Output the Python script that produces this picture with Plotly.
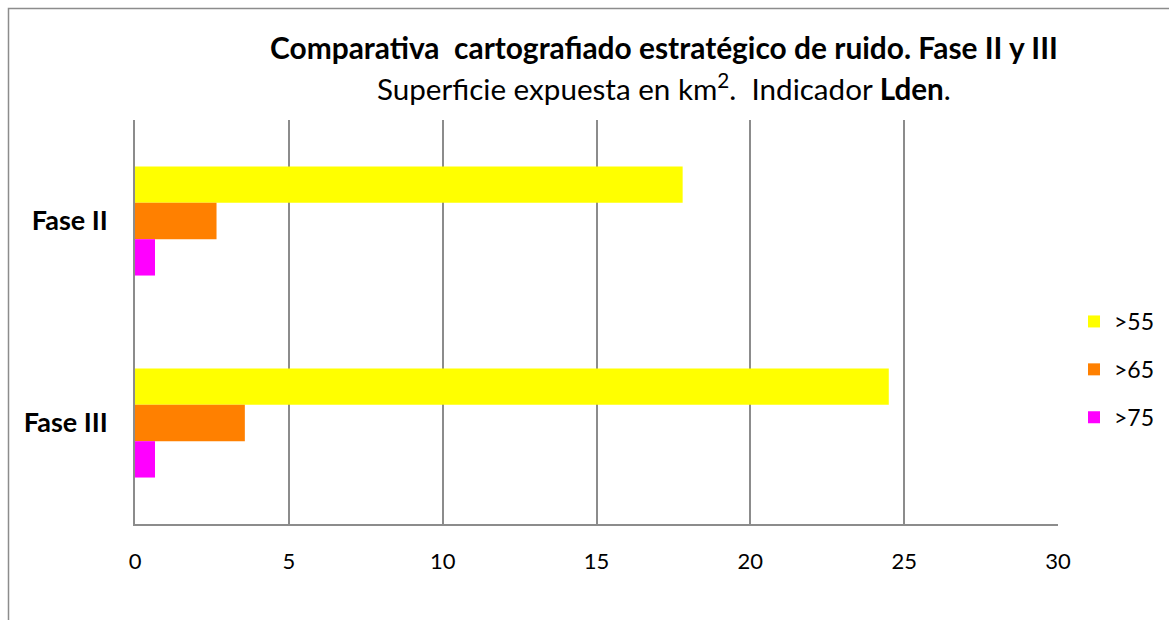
import plotly.graph_objects as go

categories = ["Fase II", "Fase III"]
series_names = [">55", ">65", ">75"]
v55 = [17.8, 24.5]
v65 = [2.65, 3.57]
v75 = [0.65, 0.65]
colors = ["#FFFF00", "#FF8000", "#FF00FF"]
x_ticks = [0, 5, 10, 15, 20, 25, 30]

W, H = 1169, 620
ml, mr, mt, mb = 135, 111, 120, 96
pw, ph = W - ml - mr, H - mt - mb

fig = go.Figure()
for name, vals, col in zip(series_names, [v55, v65, v75], colors):
    fig.add_trace(go.Bar(y=categories, x=vals, name=name, orientation="h",
                         legendgroup=name,
                         marker=dict(color=col, line=dict(width=0))))

font_family = "Lato, 'Open Sans', sans-serif"

def px_x(p):  # page pixel -> paper
    return (p - ml) / pw

def px_y(p):
    return 1 - (p - mt) / ph

fig.update_layout(
    width=W, height=H,
    margin=dict(l=ml, r=mr, t=mt, b=mb, autoexpand=False),
    paper_bgcolor="white", plot_bgcolor="white",
    barmode="group", bargap=0.46, bargroupgap=0,
    font=dict(family=font_family, size=22, color="black"),
    showlegend=True,
    legend=dict(x=px_x(1074), y=px_y(300), xanchor="left", yanchor="top",
                font=dict(size=23), tracegroupgap=15, itemsizing="constant",
                bgcolor="rgba(0,0,0,0)"),
    xaxis=dict(range=[0, 30], tickvals=x_ticks, showgrid=True, gridcolor="#8c8c8c",
               gridwidth=1.5, zeroline=False, showline=True, linecolor="#8c8c8c",
               linewidth=1.5, ticks="", tickfont=dict(size=22), ticklabelstandoff=17,
               automargin=False),
    yaxis=dict(autorange="reversed", showgrid=False, zeroline=False, showline=True,
               linecolor="#8c8c8c", linewidth=1.5, ticks="",
               tickfont=dict(size=27), ticklabelstandoff=20, automargin=False,
               tickprefix="<b>", ticksuffix="</b>"),
)

fig.add_annotation(xref="paper", yref="paper", x=px_x(664), y=px_y(47),
                   text="<b>Comparativa  cartografiado estratégico de ruido. Fase II y III</b>",
                   showarrow=False, font=dict(size=29.9, family=font_family),
                   xanchor="center", yanchor="middle")
fig.add_annotation(xref="paper", yref="paper", x=px_x(664), y=px_y(87),
                   text="Superficie expuesta en km<sup>2</sup>.  Indicador <b>Lden</b>.",
                   showarrow=False, font=dict(size=29.6, family=font_family),
                   xanchor="center", yanchor="middle")

# outer chart frame (left and top edges visible, others run off the picture)
fig.add_shape(type="rect", xref="paper", yref="paper",
              x0=px_x(8.5), x1=px_x(W + 40),
              y0=px_y(H + 40), y1=px_y(8.5),
              line=dict(color="#8c8c8c", width=1.5), fillcolor="rgba(0,0,0,0)", layer="below")

fig.write_html("out.html", config={"displayModeBar": False},
               post_script="document.body.style.margin='0';")
